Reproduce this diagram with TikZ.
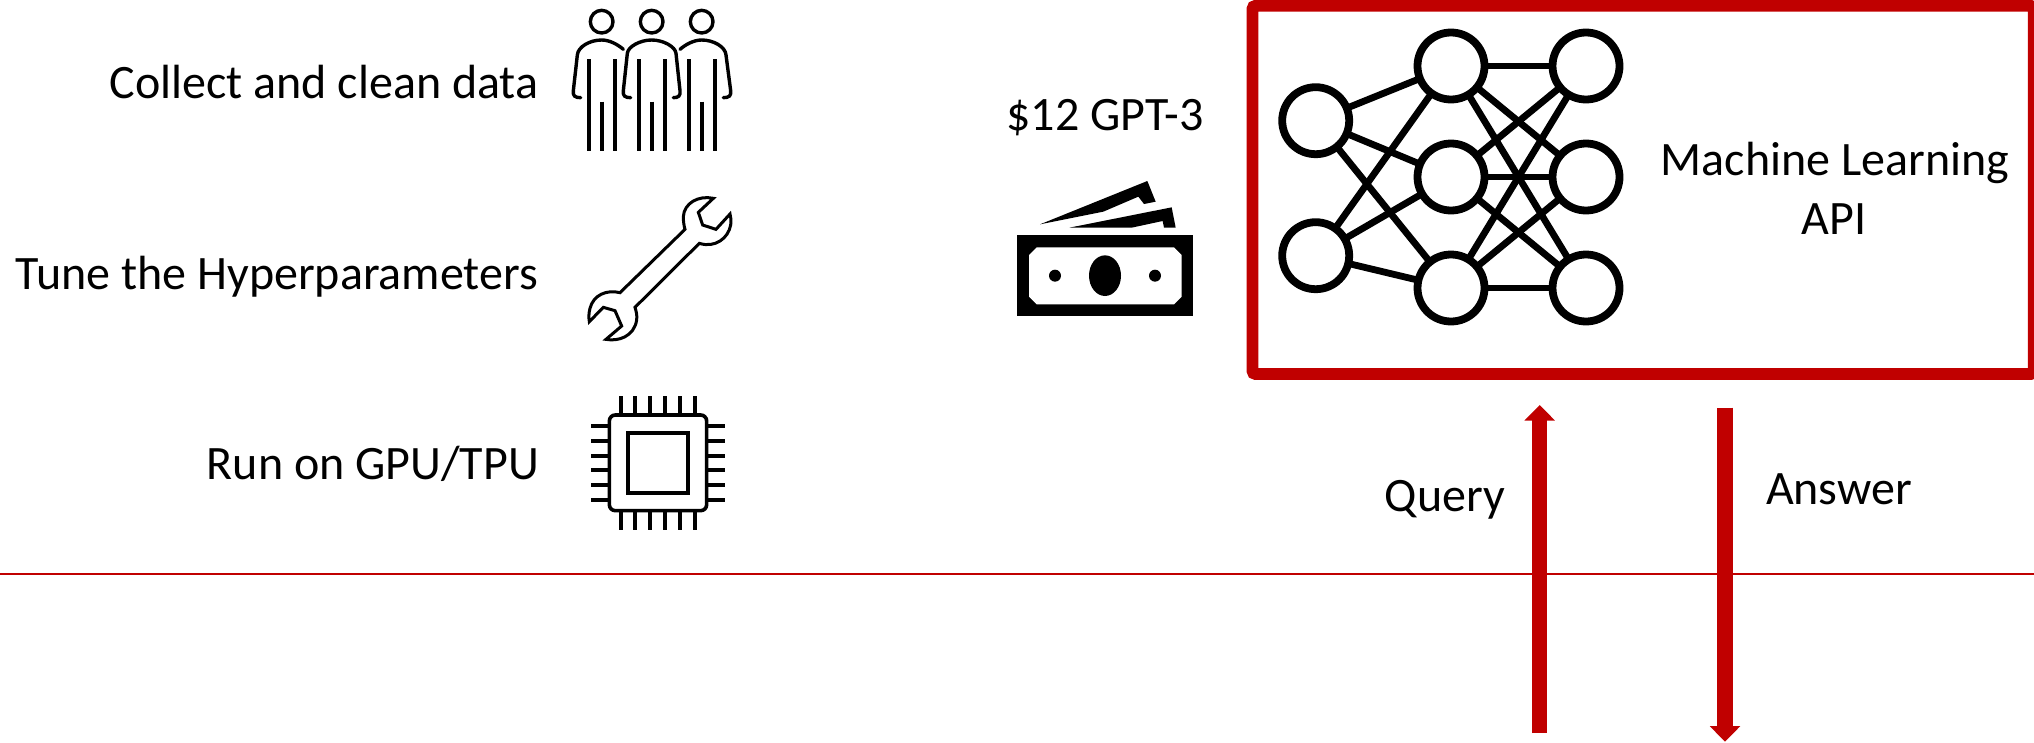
\documentclass[tikz,border=0pt]{standalone}
\usepackage{fontspec}
\setmainfont{Carlito}
\usetikzlibrary{arrows.meta}
\definecolor{dred}{HTML}{C00000}
\tikzset{
 lbl/.style={font=\fontsize{48}{56}\selectfont,inner sep=0pt,outer sep=0pt,text=black},
 nn/.style={circle,draw=black,line width=7.8pt,minimum size=67pt,inner sep=0pt,outer sep=0pt},
 ne/.style={draw=black,line width=6.8pt},
 ic/.style={draw=black,line width=3.4pt,line cap=round,line join=round},
 redarrow/.style={draw=dred,line width=15.3pt,-{Triangle[length=15.5pt,width=29.5pt]}},
}
\begin{document}
\begin{tikzpicture}[x=1pt,y=-1pt]
\useasboundingbox (0,0) rectangle (2034,742);
% labels
\node[lbl,anchor=base east] (t1) at (538.5,98) {Collect and clean data};
\node[lbl,anchor=base east] (t2) at (538,289) {Tune the Hyperparameters};
\node[lbl,anchor=base east] (t3) at (539,479) {Run on GPU/TPU};
\node[lbl,anchor=base] (t4) at (1105,130) {\$12 GPT-3};
\node[lbl,anchor=base] (t5) at (1835,175) {Machine Learning};
\node[lbl,anchor=base] (t6) at (1834,234) {API};
\node[lbl,anchor=base] (t7) at (1445,511) {Query};
\node[lbl,anchor=base] (t8) at (1839,504) {Answer};
% people
\begin{scope}[shift={(540,0)},x=1/3*1pt,y=-1/3*1pt]
\foreach \h in {185,335,485} \draw[ic] (\h,65) circle (34);
\draw[ic] (122,293) .. controls (105,293) and (98,288) .. (100,272) -- (112,165) .. controls (114,140) and (150,120) .. (185,120) .. controls (210,120) and (235,135) .. (250,148);
\draw[ic] (272,293) .. controls (255,293) and (248,288) .. (250,272) -- (262,160) .. controls (264,140) and (300,120) .. (335,120) .. controls (370,120) and (406,140) .. (408,160) -- (420,272) .. controls (422,288) and (415,293) .. (400,293);
\draw[ic] (420,148) .. controls (435,135) and (460,120) .. (485,120) .. controls (520,120) and (556,140) .. (558,165) -- (572,272) .. controls (574,288) and (567,293) .. (550,293);
\foreach \l in {148,225,297,374,446,524} \draw[draw=black,line width=4pt] (\l,178) -- (\l,452);
\foreach \l in {185,336,485} \draw[draw=black,line width=4pt] (\l,305) -- (\l,452);
\end{scope}
% wrench
\begin{scope}[shift={(560,180)},x=1/3*1pt,y=-1/3*1pt]
\draw[draw=black,line width=3pt,line join=miter] (460,55) .. controls (415,45) and (372,70) .. (370,110) .. controls (370,125) and (372,138) .. (375,148) -- (180,338) .. controls (140,328) and (100,345) .. (90,385) .. controls (86,400) and (86,412) .. (88,425) -- (130,382) -- (165,392) -- (185,438) -- (138,478) .. controls (175,485) and (222,470) .. (230,420) .. controls (232,405) and (228,392) .. (225,382) -- (418,190) .. controls (465,205) and (505,175) .. (512,135) .. controls (514,122) and (513,112) .. (510,102) -- (468,148) -- (428,135) -- (415,97) -- cycle;
\end{scope}
% chip
\begin{scope}[shift={(570,380)},x=1/3*1pt,y=-1/3*1pt]
\draw[draw=black,line width=3.6pt,rounded corners=6pt] (118,105) rectangle (410,392);
\draw[draw=black,line width=3.8pt] (175,160) rectangle (353,338);
\foreach \p in {152,196,241,285,330,375} {\draw[draw=black,line width=3.7pt] (\p,48) -- (\p,105); \draw[draw=black,line width=3.7pt] (\p,392) -- (\p,450);}
\foreach \p in {138,183,227,271,316,360} {\draw[draw=black,line width=3.7pt] (63,\p) -- (118,\p); \draw[draw=black,line width=3.7pt] (410,\p) -- (465,\p);}
\end{scope}
% money
\begin{scope}[shift={(990,160)},x=1/3*1pt,y=-1/3*1pt]
\fill[black] (80,226) rectangle (610,468);
\fill[white] (140,262) -- (552,262) -- (575,285) -- (575,410) -- (552,433) -- (140,433) -- (117,410) -- (117,285) -- cycle;
\fill[black] (345,347) ellipse [x radius=48,y radius=61];
\fill[black] (195,347) circle (18);
\fill[black] (495,347) circle (18);
\fill[black] (150,193) -- (472,63) -- (497,125) -- (462,132) -- (445,110) -- (340,155) -- cycle;
\fill[black] (238,203) -- (545,142) -- (557,203) -- (522,203) -- (518,183) -- (425,203) -- cycle;
\end{scope}
% network
\node[nn] (a1) at (1315.7,120.7) {};
\node[nn] (a2) at (1315.7,255.7) {};
\foreach \n/\y in {1/66,2/177,3/288} {
 \node[nn] (b\n) at (1451,\y) {};
 \node[nn] (c\n) at (1586,\y) {};
}
\foreach \s in {a1,a2} \foreach \d in {b1,b2,b3} \draw[ne] (\s) -- (\d);
\foreach \s in {b1,b2,b3} \foreach \d in {c1,c2,c3} \draw[ne] (\s) -- (\d);
% red box
\node[draw=dred,line width=11.7pt,rounded corners=3pt,inner sep=0pt,outer sep=0pt,anchor=north west,minimum width=781.2pt,minimum height=368.2pt] (box) at (1252.5,5.8) {};
% rule and arrows
\coordinate (rl) at (0,574);
\coordinate (rr) at (2034,574);
\draw[dred,line width=1.4pt] (rl) -- (rr);
\coordinate (qs) at (1539.7,733);
\coordinate (qe) at (1539.7,405);
\coordinate (as) at (1725,407.7);
\coordinate (ae) at (1725,741.7);
\draw[redarrow] (qs) -- (qe);
\draw[redarrow] (as) -- (ae);
\end{tikzpicture}
\end{document}
